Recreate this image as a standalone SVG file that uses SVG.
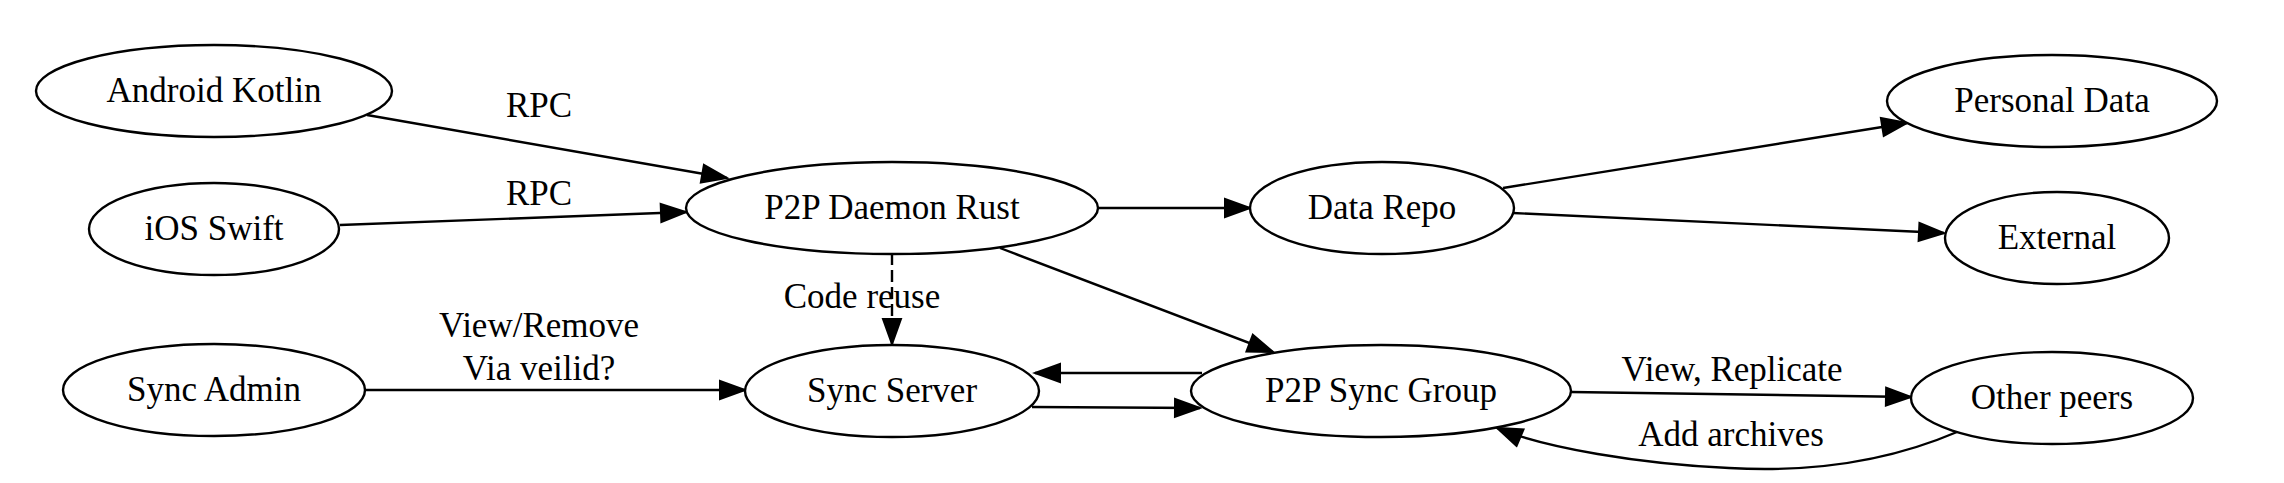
<svg xmlns="http://www.w3.org/2000/svg" width="2284" height="483" viewBox="0 0 2284 483">
<style>
.node ellipse{fill:#fff;stroke:#000;stroke-width:2.4}
text{font-family:"Liberation Serif","Times New Roman",serif;font-size:35px;fill:#000;text-anchor:middle}
.edge{fill:none;stroke:#000;stroke-width:2.4;marker-end:url(#arrow)}
.dashed{stroke-dasharray:12,5}
</style>
<defs>
<marker id="arrow" markerUnits="userSpaceOnUse" viewBox="-3 -3 31 24" markerWidth="31" markerHeight="24" refX="25" refY="9" orient="auto">
<path d="M0,0 L25,9 L0,18 z" fill="#000" stroke="#000" stroke-width="2"/>
</marker>
</defs>
<rect width="2284" height="483" fill="#fff"/>
<g id="connectors">
<path class="edge" d="M367,115 L727,178"/>
<text x="539" y="117">RPC</text>
<path class="edge" d="M340,225 L686,212"/>
<text x="539" y="205">RPC</text>
<path class="edge" d="M364,390 L745,390"/>
<text x="539" y="337">View/Remove</text>
<text x="539" y="380">Via veilid?</text>
<path class="edge" d="M1098,208 L1250,208"/>
<path class="edge dashed" d="M892,253 L892,344"/>
<text x="862" y="308">Code reuse</text>
<path class="edge" d="M1000,248 L1273,352"/>
<path class="edge" d="M1202,373 L1035,373"/>
<path class="edge" d="M1032,407 L1200,408"/>
<path class="edge" d="M1503,188 L1907,123"/>
<path class="edge" d="M1513,213 L1944,233"/>
<path class="edge" d="M1571,392 L1911,397"/>
<text x="1732" y="381">View, Replicate</text>
<path class="edge" d="M1957,432 C1880,465 1800,472 1729,468 C1640,464 1545,448 1497,428"/>
<text x="1731" y="446">Add archives</text>
</g>
<g id="android" class="node"><ellipse cx="214" cy="91" rx="178" ry="46"/><text x="214" y="102">Android Kotlin</text></g>
<g id="ios" class="node"><ellipse cx="214" cy="229" rx="125" ry="46"/><text x="214" y="240">iOS Swift</text></g>
<g id="syncadmin" class="node"><ellipse cx="214" cy="390" rx="151" ry="46"/><text x="214" y="401">Sync Admin</text></g>
<g id="daemon" class="node"><ellipse cx="892" cy="208" rx="206" ry="46"/><text x="892" y="219">P2P Daemon Rust</text></g>
<g id="syncserver" class="node"><ellipse cx="892" cy="391" rx="147" ry="46"/><text x="892" y="402">Sync Server</text></g>
<g id="datarepo" class="node"><ellipse cx="1382" cy="208" rx="132" ry="46"/><text x="1382" y="219">Data Repo</text></g>
<g id="syncgroup" class="node"><ellipse cx="1381" cy="391" rx="190" ry="46"/><text x="1381" y="402">P2P Sync Group</text></g>
<g id="personal" class="node"><ellipse cx="2052" cy="101" rx="165" ry="46"/><text x="2052" y="112">Personal Data</text></g>
<g id="external" class="node"><ellipse cx="2057" cy="238" rx="112" ry="46"/><text x="2057" y="249">External</text></g>
<g id="peers" class="node"><ellipse cx="2052" cy="398" rx="141" ry="46"/><text x="2052" y="409">Other peers</text></g>
</svg>
